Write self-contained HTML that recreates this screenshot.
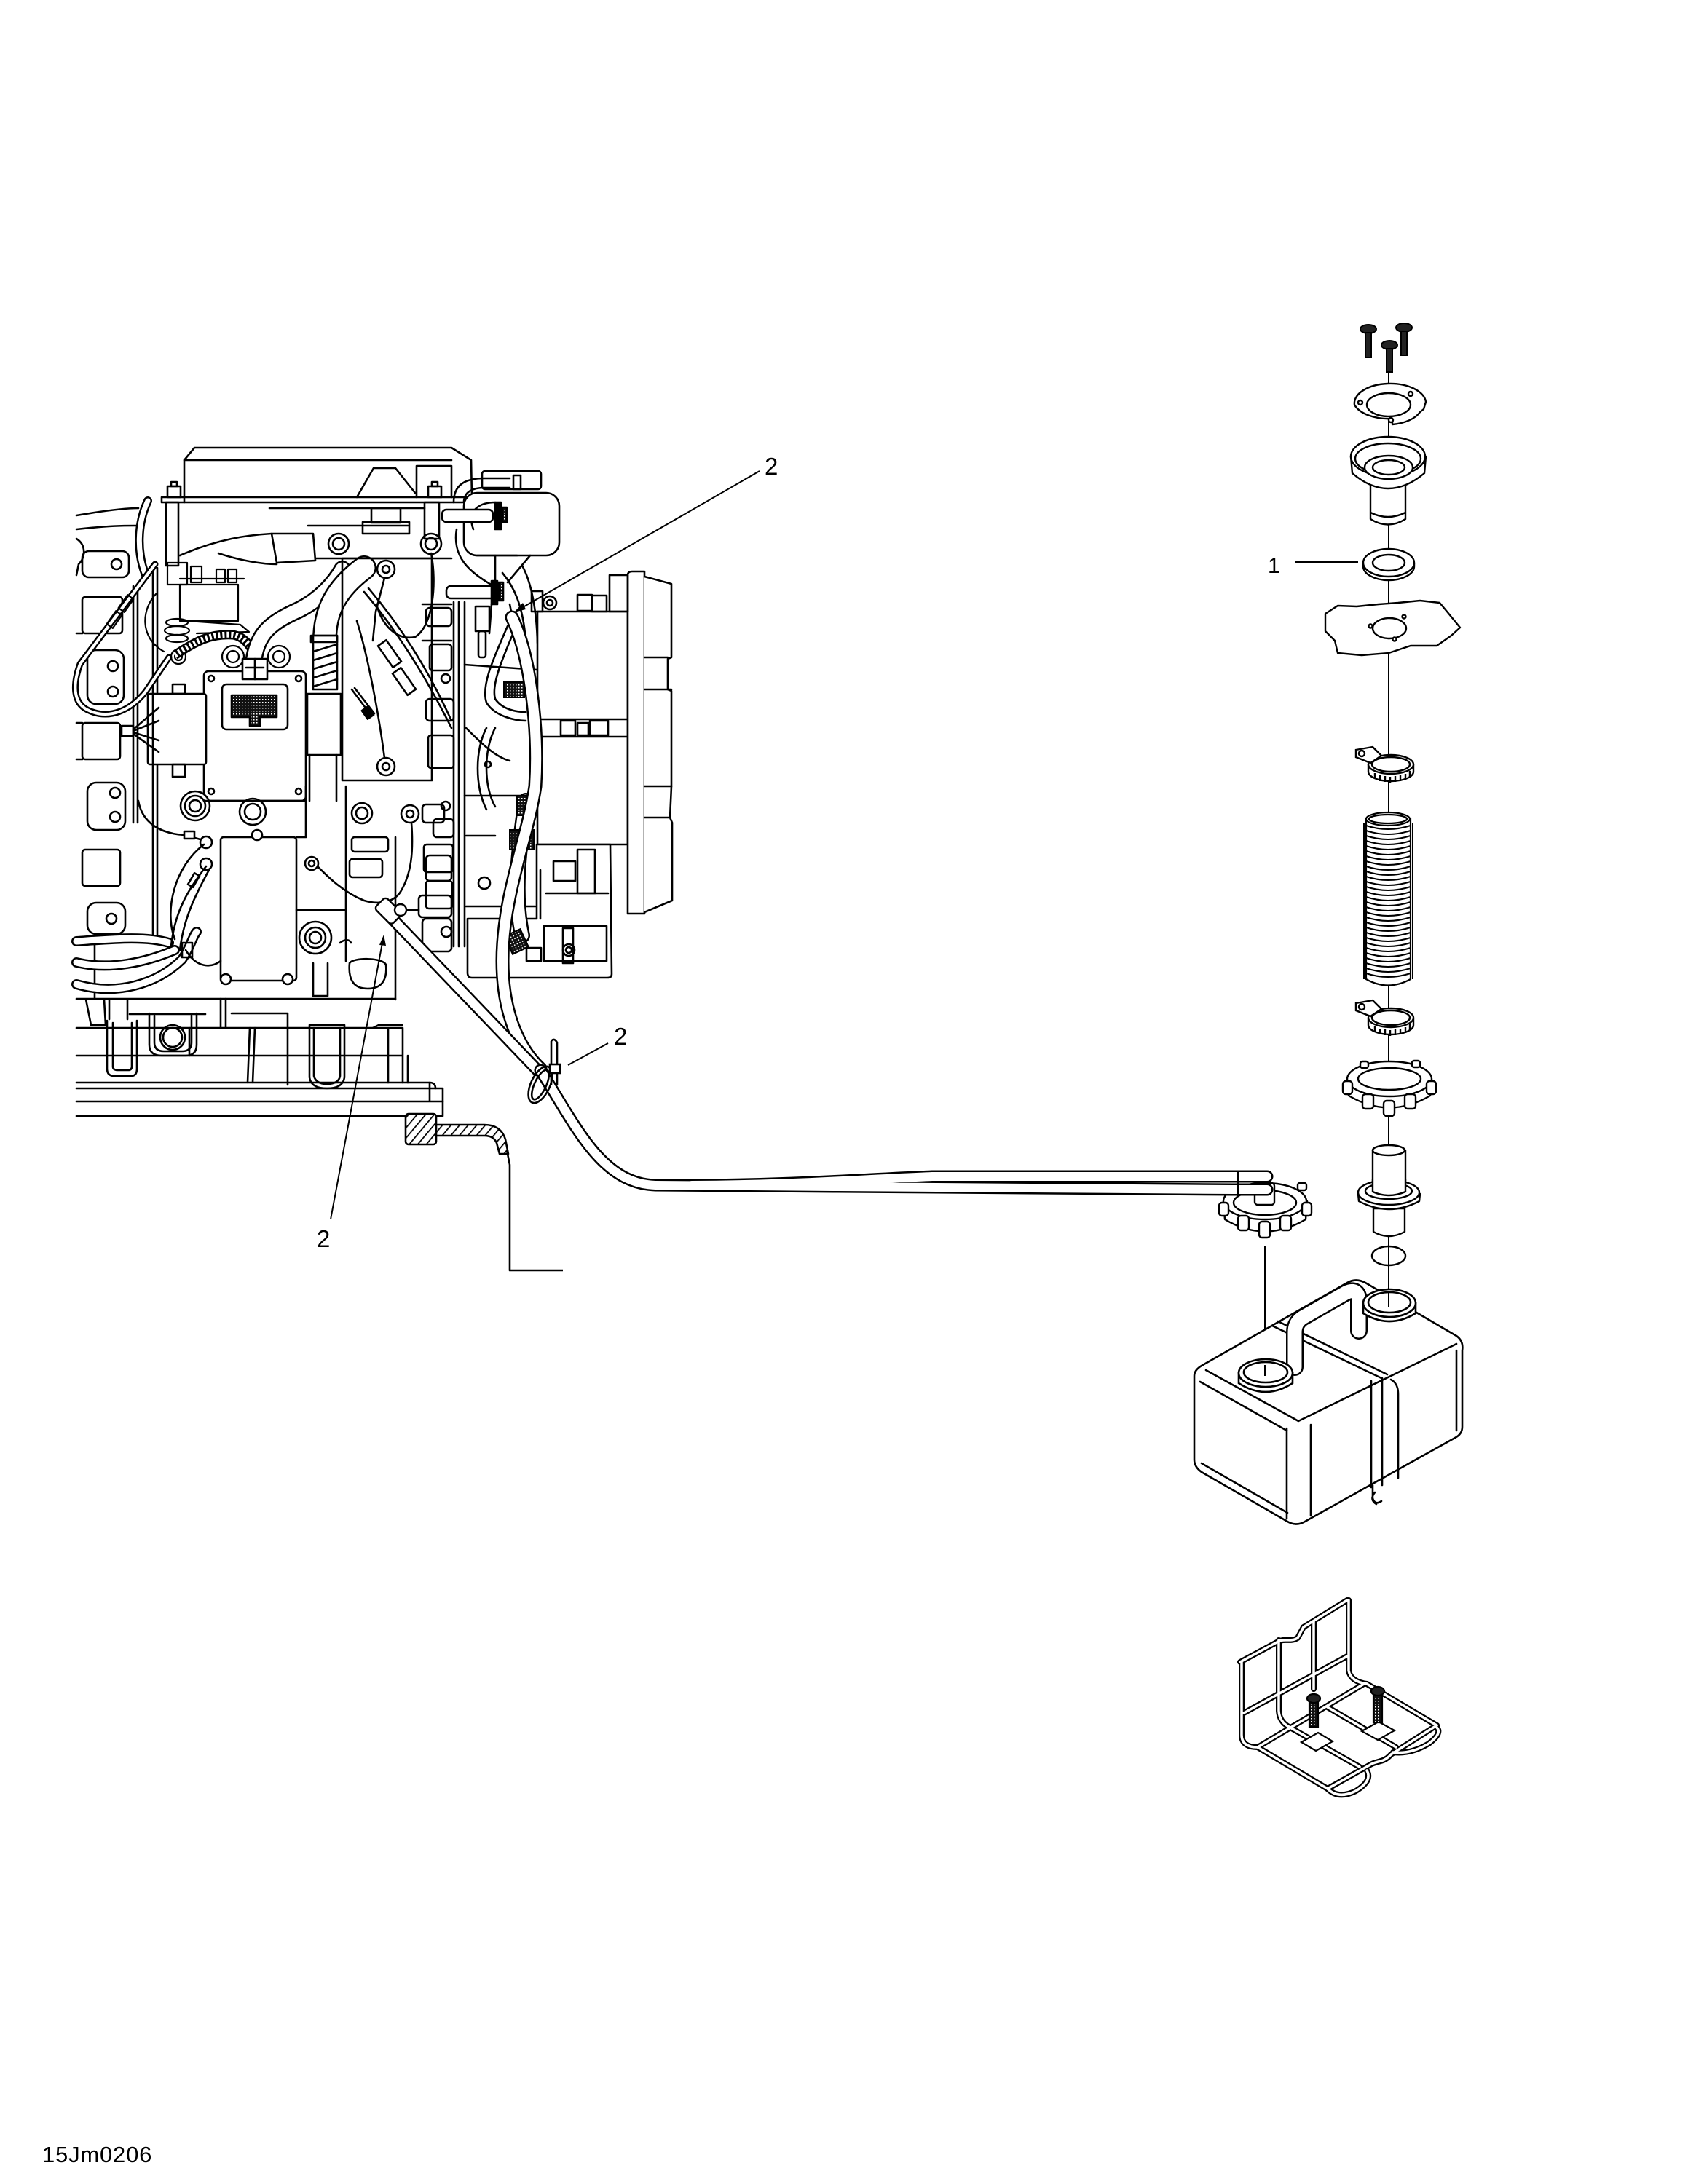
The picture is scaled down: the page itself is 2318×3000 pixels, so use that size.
<!DOCTYPE html>
<html><head><meta charset="utf-8"><style>
html,body{margin:0;padding:0;background:#fff;}
svg{display:block}
text{font-family:"Liberation Sans",sans-serif;fill:#000}
</style></head><body>
<svg width="2318" height="3000" viewBox="0 0 2318 3000" xmlns="http://www.w3.org/2000/svg">
<defs>
<pattern id="hatch" width="9" height="9" patternUnits="userSpaceOnUse" patternTransform="rotate(40)"><rect width="9" height="9" fill="#fff"/><line x1="0" y1="0" x2="0" y2="9" stroke="#000" stroke-width="3.5"/></pattern>
<pattern id="dark" width="4" height="4" patternUnits="userSpaceOnUse"><rect width="4" height="4" fill="#111"/><rect width="1.5" height="1.5" fill="#fff"/></pattern>
</defs>
<rect width="2318" height="3000" fill="#fff"/>

<g fill="none" stroke="#000" stroke-width="2.6" stroke-linejoin="round" stroke-linecap="round">
<path d="M253,690 L253,632 L267,615 L620,615 L647,632 L648,683"/>
<path d="M253,632 L620,632"/>
<rect x="222" y="683" width="426" height="7"/>
<path d="M490,683 L513,643 L543,643 L570,677"/>
<path d="M572,683 L572,640 L620,640 L620,683"/>
<rect x="230" y="668" width="18" height="15"/><rect x="235" y="662" width="8" height="6"/>
<rect x="588" y="668" width="18" height="15"/><rect x="593" y="662" width="8" height="6"/>
<rect x="228" y="690" width="17" height="87"/>
<rect x="583" y="690" width="20" height="50"/>
<path d="M370,698 L583,698"/><path d="M423,722 L560,722"/>
<rect x="510" y="698" width="40" height="20"/><rect x="498" y="717" width="64" height="16"/>
<path d="M373,733 L430,733 L433,770 L380,773 Z"/>
<path d="M247,763 C300,740 340,735 373,733"/>
<path d="M433,767 L620,767"/>
<circle cx="465" cy="747" r="14"/><circle cx="465" cy="747" r="8"/>
<circle cx="592" cy="747" r="14"/><circle cx="592" cy="747" r="8"/>
<path d="M300,760 C330,770 360,775 380,775"/>
<path d="M105,708 C140,702 170,698 190,698"/>
<path d="M105,727 C150,722 170,722 187,722"/>
<path d="M105,740 C118,748 118,765 108,775 L105,790"/>
<rect x="113" y="757" width="64" height="36" rx="9"/><circle cx="160" cy="775" r="7"/>
<rect x="113" y="820" width="55" height="50" rx="4"/>
<rect x="120" y="893" width="50" height="74" rx="12"/><circle cx="155" cy="915" r="7"/><circle cx="155" cy="950" r="7"/>
<rect x="113" y="993" width="52" height="50" rx="4"/>
<rect x="120" y="1075" width="52" height="65" rx="12"/><circle cx="158" cy="1089" r="7"/><circle cx="158" cy="1122" r="7"/>
<rect x="113" y="1167" width="52" height="50" rx="4"/>
<rect x="120" y="1240" width="52" height="43" rx="12"/><circle cx="153" cy="1262" r="7"/>
<path d="M130,1283 L130,1372"/>
<path d="M105,870 L113,870 M105,993 L113,993 M105,1043 L113,1043"/>
<path d="M183,805 L183,1130 M189,805 L189,1130"/>
<path d="M210,780 L210,1290 M216,780 L216,1290"/>
</g>
<g fill="none" stroke-linecap="round" stroke-linejoin="round">
<path d="M203,688 C188,720 188,760 200,790" stroke="#000" stroke-width="12"/>
<path d="M203,688 C188,720 188,760 200,790" stroke="#fff" stroke-width="7"/>
<path d="M213,775 L110,912 C100,940 100,965 120,975 C150,990 180,975 200,950 L232,903" stroke="#000" stroke-width="9"/>
<path d="M213,775 L110,912 C100,940 100,965 120,975 C150,990 180,975 200,950 L232,903" stroke="#fff" stroke-width="4"/>
<path d="M105,1293 C150,1290 200,1285 232,1295" stroke="#000" stroke-width="14"/>
<path d="M105,1293 C150,1290 200,1285 232,1295" stroke="#fff" stroke-width="9"/>
<path d="M105,1322 C150,1333 200,1322 240,1305" stroke="#000" stroke-width="14"/>
<path d="M105,1322 C150,1333 200,1322 240,1305" stroke="#fff" stroke-width="9"/>
<path d="M105,1352 C160,1368 215,1352 250,1318 C262,1300 265,1285 270,1280" stroke="#000" stroke-width="14"/>
<path d="M105,1352 C160,1368 215,1352 250,1318 C262,1300 265,1285 270,1280" stroke="#fff" stroke-width="9"/>
</g>
<g fill="none" stroke="#000" stroke-width="2.2" stroke-linejoin="round" stroke-linecap="round">
<path d="M215,815 C195,835 190,875 225,895"/>
<rect x="168" y="818" width="10" height="22" transform="rotate(35 173 829)"/>
<rect x="152" y="840" width="10" height="22" transform="rotate(35 157 851)"/>
<rect x="230" y="773" width="27" height="30"/>
<rect x="247" y="803" width="80" height="50"/>
<rect x="262" y="778" width="15" height="22"/><rect x="297" y="782" width="12" height="18"/><rect x="313" y="782" width="12" height="18"/>
<path d="M247,795 L335,795"/>
<path d="M258,853 L330,858 L342,868 L270,870"/>
<ellipse cx="243" cy="855" rx="15" ry="5"/><ellipse cx="243" cy="866" rx="17" ry="6"/><ellipse cx="243" cy="877" rx="15" ry="5"/>
<circle cx="245" cy="902" r="10"/><circle cx="245" cy="902" r="5"/>
<circle cx="320" cy="902" r="15"/><circle cx="320" cy="902" r="8"/>
<circle cx="383" cy="902" r="15"/><circle cx="383" cy="902" r="8"/>
</g>
<path d="M240,900 C270,880 290,870 320,872 C332,874 340,882 346,892" fill="none" stroke="#000" stroke-width="13"/>
<path d="M240,900 C270,880 290,870 320,872 C332,874 340,882 346,892" fill="none" stroke="#fff" stroke-width="8" stroke-dasharray="3 3"/>
<g fill="none" stroke-linecap="round">
<path d="M348,912 C352,870 372,855 410,838 C440,823 460,800 470,782" stroke="#000" stroke-width="24"/>
<path d="M348,912 C352,870 372,855 410,838 C440,823 460,800 470,782" stroke="#fff" stroke-width="19"/>
<path d="M446,880 C446,840 460,810 500,780" stroke="#000" stroke-width="34"/>
<path d="M446,880 C446,840 460,810 500,780" stroke="#fff" stroke-width="29"/>
</g>
<g fill="none" stroke="#000" stroke-width="2.6" stroke-linejoin="round" stroke-linecap="round">
<rect x="280" y="922" width="140" height="178" rx="6" fill="#fff"/>
<rect x="305" y="940" width="90" height="62" rx="6"/>
<path d="M318,955 L380,955 L380,985 L357,985 L357,997 L343,997 L343,985 L318,985 Z" fill="url(#dark)"/>
<rect x="333" y="905" width="34" height="28" fill="#fff"/><path d="M350,905 L350,933 M338,917 L362,917"/>
<circle cx="290" cy="932" r="4"/><circle cx="410" cy="932" r="4"/><circle cx="290" cy="1087" r="4"/><circle cx="410" cy="1087" r="4"/>
<rect x="203" y="953" width="80" height="97" rx="3" fill="#fff"/>
<path d="M210,953 L210,1050"/>
<rect x="237" y="940" width="17" height="13"/><rect x="237" y="1050" width="17" height="17"/>
<rect x="167" y="997" width="16" height="14"/>
<path d="M183,1002 L218,972 M183,1004 L218,990 M183,1006 L218,1017 M183,1008 L218,1033"/>
<rect x="422" y="953" width="46" height="84"/>
<path d="M425,1037 L425,1100 M462,1037 L462,1100"/>
<rect x="430" y="873" width="33" height="74" fill="#fff"/>
<rect x="427" y="873" width="36" height="9"/>
<path d="M430,895 L463,885 M430,907 L463,897 M430,919 L463,909 M430,931 L463,921 M430,943 L463,933"/>
<rect x="470" y="767" width="123" height="305"/>
<circle cx="530" cy="782" r="12" fill="#fff"/><circle cx="530" cy="782" r="5"/>
<path d="M528,794 L516,840 L512,880"/>
<path d="M490,853 C505,900 520,980 528,1041"/>
<circle cx="530" cy="1053" r="12"/><circle cx="530" cy="1053" r="5"/>
<path d="M500,813 C540,860 580,920 620,1000 M506,808 C546,855 586,915 620,990"/>
<rect x="528" y="880" width="14" height="36" transform="rotate(-35 535 898)" fill="#fff"/>
<rect x="548" y="918" width="14" height="36" transform="rotate(-35 555 936)" fill="#fff"/>
<path d="M592,760 C600,800 595,860 570,875 C545,880 525,860 517,830"/>
<path d="M483,947 L510,983 M487,945 L514,980"/>
<rect x="500" y="972" width="10" height="14" fill="#000" transform="rotate(-35 505 979)"/>
<rect x="662" y="647" width="81" height="25" rx="4"/><rect x="705" y="653" width="10" height="19"/>
<path d="M623,690 C623,665 640,657 665,657 L700,657 M637,690 C637,675 650,670 665,670 L700,670"/>
<rect x="637" y="677" width="131" height="86" rx="18" fill="#fff"/>
<path d="M650,727 C640,700 660,690 680,690 M655,763 L710,763"/>
<path d="M680,763 L680,800 M728,763 L697,800"/>
<rect x="607" y="700" width="70" height="17" rx="6" fill="#fff"/>
<rect x="613" y="805" width="67" height="17" rx="6" fill="#fff"/>
<rect x="680" y="690" width="8" height="37" fill="#000"/><rect x="690" y="697" width="6" height="20" fill="url(#dark)"/>
<rect x="675" y="798" width="8" height="32" fill="#000"/><rect x="685" y="800" width="6" height="25" fill="url(#dark)"/>
<path d="M675,830 L672,870 M700,830 L703,845"/>
<rect x="653" y="833" width="19" height="34" fill="#fff"/><rect x="657" y="867" width="10" height="36" rx="3"/>
<path d="M717,777 C730,800 737,840 738,883 M690,787 C705,805 718,830 722,880"/>
<path d="M627,727 C620,770 650,790 690,812"/>
<path d="M623,827 L623,1300 M630,827 L630,1300 M638,827 L638,1300"/>
<path d="M580,830 L620,830 M580,880 L620,880"/>
<rect x="585" y="835" width="35" height="25" rx="5"/>
<rect x="590" y="885" width="30" height="36" rx="4"/>
<circle cx="612" cy="932" r="6"/>
<rect x="585" y="960" width="38" height="30" rx="5"/>
<rect x="588" y="1010" width="35" height="45" rx="4"/>
<circle cx="612" cy="1107" r="6"/>
<rect x="595" y="1125" width="28" height="25" rx="5"/>
<rect x="582" y="1160" width="40" height="38" rx="4"/>
<rect x="585" y="1210" width="36" height="38" rx="4"/>
<circle cx="613" cy="1280" r="7"/>
<rect x="580" y="1262" width="40" height="45" rx="5"/>
<path d="M638,913 L737,920 M638,1093 L737,1093"/>
<path d="M697,860 C680,900 660,940 668,965 C680,985 710,990 722,990"/>
<path d="M708,862 C692,900 674,940 680,960 C690,975 710,978 722,978"/>
<path d="M668,1000 C652,1030 652,1080 668,1112 M680,1000 C664,1030 664,1080 680,1108"/>
<path d="M640,1000 C660,1020 680,1040 700,1045"/>
<circle cx="670" cy="1050" r="4"/>
<rect x="738" y="840" width="124" height="320" fill="#fff"/>
<path d="M738,988 L862,988 M738,1012 L862,1012"/>
<rect x="770" y="990" width="20" height="20"/><rect x="793" y="993" width="15" height="17"/><rect x="810" y="990" width="25" height="20"/>
<path d="M862,1255 L862,790 Q862,785 868,785 L885,785 L885,1255 Z" fill="#fff"/>
<path d="M885,792 L922,802 L922,903 L917,905 L917,947 L922,949 L922,1080 L920,1123 L923,1130 L923,1237 L885,1253" fill="#fff"/>
<path d="M885,903 L917,903 M885,947 L922,947 M885,1080 L922,1080 M885,1123 L920,1123"/>
<circle cx="755" cy="828" r="9"/><circle cx="755" cy="828" r="4"/>
<rect x="793" y="817" width="20" height="22"/><rect x="813" y="818" width="20" height="22"/>
<rect x="837" y="790" width="25" height="50"/>
<rect x="730" y="812" width="15" height="28"/>
<path d="M642,1262 L737,1262 L737,1160 L838,1160 L840,1338 Q840,1343 834,1343 L648,1343 Q642,1343 642,1336 Z" fill="#fff"/>
<rect x="760" y="1183" width="30" height="27"/><rect x="793" y="1167" width="24" height="60"/>
<path d="M750,1227 L835,1227 M742,1195 L742,1262"/>
<rect x="747" y="1272" width="86" height="48"/><rect x="773" y="1275" width="14" height="48"/>
<circle cx="781" cy="1305" r="8"/><circle cx="781" cy="1305" r="4"/>
<rect x="723" y="1302" width="20" height="18"/>
<path d="M640,1148 L680,1148 M640,1245 L735,1245"/>
<circle cx="665" cy="1213" r="8"/>
</g>
<g fill="none" stroke-linecap="round">
<path d="M722,1100 C712,1170 705,1230 717,1285" stroke="#000" stroke-width="22"/>
<path d="M722,1100 C712,1170 705,1230 717,1285" stroke="#fff" stroke-width="17"/>
</g>
<g stroke="#000" stroke-width="2">
<rect x="692" y="937" width="28" height="21" fill="url(#dark)"/>
<rect x="710" y="1093" width="27" height="27" fill="url(#dark)"/>
<rect x="700" y="1140" width="33" height="27" fill="url(#dark)"/>
<rect x="697" y="1280" width="24" height="27" fill="url(#dark)" transform="rotate(-25 709 1293)"/>
</g>

<g fill="none" stroke="#000" stroke-width="2.6" stroke-linejoin="round" stroke-linecap="round">
<path d="M190,1100 C195,1130 220,1145 253,1147 L275,1153"/>
<rect x="253" y="1142" width="14" height="10" fill="#fff"/>
<circle cx="268" cy="1107" r="20" fill="#fff"/><circle cx="268" cy="1107" r="14"/><circle cx="268" cy="1107" r="8"/>
<circle cx="347" cy="1115" r="18" fill="#fff"/><circle cx="347" cy="1115" r="11"/>
<path d="M420,1080 L420,1100 L280,1100"/>
<rect x="303" y="1150" width="104" height="197" rx="4" fill="#fff"/>
<circle cx="353" cy="1147" r="7" fill="#fff"/><circle cx="310" cy="1345" r="7" fill="#fff"/><circle cx="395" cy="1345" r="7" fill="#fff"/>
<circle cx="283" cy="1157" r="8"/><circle cx="283" cy="1187" r="8"/>
<path d="M283,1190 C260,1220 240,1250 235,1300 M287,1195 C268,1230 252,1262 247,1305"/>
<path d="M280,1160 C240,1190 225,1250 240,1290"/>
<path d="M255,1305 C270,1330 290,1330 303,1320"/>
<rect x="262" y="1200" width="8" height="18" transform="rotate(30 266 1209)"/>
<rect x="250" y="1295" width="14" height="20"/>
<circle cx="433" cy="1288" r="22"/><circle cx="433" cy="1288" r="14"/><circle cx="433" cy="1288" r="8"/>
<circle cx="428" cy="1186" r="9"/><circle cx="428" cy="1186" r="4"/>
<path d="M436,1190 C448,1202 470,1225 500,1237 C520,1243 540,1240 550,1225 C565,1200 568,1170 565,1130"/>
<circle cx="563" cy="1118" r="12" fill="#fff"/><circle cx="563" cy="1118" r="5"/>
<circle cx="497" cy="1117" r="14"/><circle cx="497" cy="1117" r="8"/>
<path d="M407,1150 L420,1150 L420,1100 M475,1080 L475,1320 M407,1250 L475,1250"/>
<rect x="483" y="1150" width="50" height="20" rx="4"/>
<rect x="480" y="1180" width="45" height="25" rx="4"/>
<path d="M480,1323 C485,1315 525,1315 530,1325 C532,1345 525,1358 505,1358 C485,1358 478,1345 480,1323 Z"/>
<path d="M430,1323 L430,1368 L450,1368 L450,1323"/>
<path d="M467,1295 C473,1290 480,1290 482,1295"/>
<rect x="580" y="1105" width="30" height="25" rx="5"/>
<rect x="585" y="1175" width="35" height="35" rx="5"/>
<rect x="575" y="1230" width="45" height="30" rx="5"/>
<path d="M543,1150 L543,1373 M555,1250 L575,1250"/>
<path d="M105,1372 L543,1372"/>
<path d="M118,1373 L125,1408 L145,1408 L143,1373"/>
<path d="M150,1373 L150,1400 M175,1373 L175,1400"/>
<path d="M105,1412 L552,1412"/>
<path d="M105,1450 L552,1450"/>
<path d="M147,1402 L147,1468 Q147,1478 157,1478 L180,1478 Q188,1478 188,1468 L188,1402"/>
<path d="M155,1405 L155,1465 Q155,1470 162,1470 L176,1470 Q181,1470 181,1465 L181,1405"/>
<path d="M178,1393 L282,1393"/>
<path d="M205,1392 L205,1435 Q205,1450 222,1450 L255,1450 Q270,1450 270,1435 L270,1392"/>
<path d="M212,1395 L212,1432 Q212,1444 225,1444 L250,1444 Q263,1444 263,1432 L263,1395"/>
<circle cx="237" cy="1425" r="17"/><circle cx="237" cy="1425" r="13"/>
<path d="M303,1372 L303,1412 M310,1372 L310,1412"/>
<path d="M318,1392 L395,1392 L395,1490 M343,1412 L340,1487 M350,1412 L347,1487"/>
<path d="M425,1408 L425,1480 Q427,1495 449,1495 Q471,1495 473,1480 L473,1408 Z"/>
<path d="M431,1412 L431,1478 Q434,1489 449,1489 Q465,1489 467,1478 L467,1412"/>
<path d="M512,1412 L520,1408 L552,1408 M533,1413 L533,1487 M553,1412 L553,1487"/>
<path d="M260,1412 L260,1450 M560,1450 L560,1487"/>
<path d="M105,1487 L590,1487 Q598,1487 598,1495 L608,1495 L608,1533 L105,1533"/>
<path d="M105,1495 L598,1495 M105,1513 L608,1513 M590,1487 L590,1513"/>
</g>
<g stroke="#000" stroke-width="2.6" stroke-linejoin="round">
<rect x="557" y="1530" width="42" height="42" rx="4" fill="url(#hatch)"/>
<path d="M599,1545 L665,1545 Q688,1545 694,1565 L698,1585 L686,1585 L682,1570 Q678,1560 665,1560 L599,1560 Z" fill="url(#hatch)"/>
<path d="M696,1580 L700,1600 L700,1745 L773,1745" fill="none"/>
</g>

<g fill="none" stroke-linecap="round" stroke-linejoin="round">
<path d="M703,848 C728,900 740,1000 735,1080 C725,1150 690,1230 690,1320 C690,1390 712,1440 742,1468" stroke="#000" stroke-width="19"/>
<path d="M703,848 C728,900 740,1000 735,1080 C725,1150 690,1230 690,1320 C690,1390 712,1440 742,1468" stroke="#fff" stroke-width="14"/>
<path d="M532,1255 L738,1470" stroke="#000" stroke-width="17"/>
<path d="M532,1255 L738,1470" stroke="#fff" stroke-width="12"/>
</g>
<g fill="#fff" stroke="#000" stroke-width="2.4" stroke-linejoin="round">
<path d="M1680,1650 L1682,1675 Q1737,1708 1793,1675 L1795,1650 Z"/>
<ellipse cx="1737" cy="1650" rx="57" ry="25"/>
<ellipse cx="1737" cy="1652" rx="43" ry="17"/>
<rect x="1674" y="1652" width="13" height="18" rx="4"/>
<rect x="1700" y="1670" width="15" height="20" rx="4"/>
<rect x="1729" y="1678" width="15" height="22" rx="4"/>
<rect x="1758" y="1670" width="15" height="20" rx="4"/>
<rect x="1788" y="1652" width="13" height="18" rx="4"/>
<rect x="1782" y="1625" width="12" height="10" rx="3"/>
<rect x="1723" y="1625" width="27" height="30" rx="4"/>
</g>
<g fill="none" stroke-linecap="round" stroke-linejoin="round">
<path d="M742,1470 C790,1545 825,1626 900,1628 L1150,1630 L1693,1634 L1740,1634" stroke="#000" stroke-width="17"/>
<path d="M950,1628 C1100,1627 1180,1620 1280,1616 L1740,1616" stroke="#000" stroke-width="17"/>
<path d="M742,1470 C790,1545 825,1626 900,1628 L1150,1630 L1693,1634 L1740,1634" stroke="#fff" stroke-width="12"/>
<path d="M950,1628 C1100,1627 1180,1620 1280,1616 L1740,1616" stroke="#fff" stroke-width="12"/>
</g>
<g fill="none" stroke="#000" stroke-width="2.4">
<path d="M1700,1609 L1700,1642"/>
</g>
<g stroke="#000" stroke-width="2.4" fill="#fff">
<rect x="517" y="1240" width="33" height="22" rx="5" transform="rotate(45 533 1251)"/>
<circle cx="550" cy="1250" r="8"/>
</g>
<g fill="none" stroke="#000" stroke-width="2.6">
<ellipse cx="742" cy="1490" rx="13" ry="27" transform="rotate(25 742 1490)"/>
<ellipse cx="742" cy="1490" rx="8" ry="22" transform="rotate(25 742 1490)"/>
<path d="M757,1430 L757,1490 M765,1432 L765,1490 M757,1430 Q761,1425 765,1432"/>
<rect x="755" y="1462" width="14" height="12" fill="#fff"/>
</g>

<g stroke="#000" stroke-width="2" fill="none">
<path d="M1043,647 L713,837"/>
<path d="M835,1433 L780,1463"/>
<path d="M454,1675 L526,1290"/>
<path d="M1778,772 L1865,772"/>
</g>
<path d="M706,841 L718,828 L722,837 Z" fill="#000"/>
<path d="M527,1284 L521,1298 L530,1299 Z" fill="#000"/>
<text x="1050" y="652" font-size="33">2</text>
<text x="843" y="1435" font-size="33">2</text>
<text x="435" y="1713" font-size="33">2</text>
<text x="1741" y="787" font-size="30">1</text>
<text x="58" y="2970" font-size="31" letter-spacing="0.8">15Jm0206</text>

<path d="M1907,512 L1907,1795" stroke="#000" stroke-width="2" fill="none"/>
<path d="M1737,1711 L1737,1890" stroke="#000" stroke-width="2" fill="none"/>
<g fill="#222" stroke="#000" stroke-width="2">
<ellipse cx="1879" cy="452" rx="11" ry="6"/><rect x="1875" y="457" width="8" height="34"/>
<ellipse cx="1928" cy="450" rx="11" ry="6"/><rect x="1924" y="455" width="8" height="33"/>
<ellipse cx="1908" cy="474" rx="11" ry="6"/><rect x="1904" y="479" width="8" height="32"/>
</g>
<g fill="#fff" stroke="#000" stroke-width="2.4" stroke-linejoin="round">
<path d="M1860,556 A49,27 0 0 1 1958,552 L1955,562 L1950,566 A49,27 0 0 1 1912,583 L1912,575 A49,27 0 0 1 1860,556 Z"/>
<ellipse cx="1907" cy="556" rx="30" ry="16"/>
<circle cx="1868" cy="553" r="3"/><circle cx="1937" cy="541" r="3"/><circle cx="1910" cy="577" r="3"/>
<path d="M1882,665 L1882,713 Q1906,728 1930,713 L1930,665 Z"/>
<path d="M1882,704 Q1906,716 1930,704" fill="none"/>
<path d="M1855,627 L1857,650 Q1906,692 1956,650 L1958,627 Z"/>
<ellipse cx="1906" cy="627" rx="51" ry="27"/>
<ellipse cx="1906" cy="630" rx="45" ry="21"/>
<ellipse cx="1907" cy="642" rx="33" ry="16"/>
<ellipse cx="1907" cy="642" rx="22" ry="10"/>
<path d="M1872,773 L1872,778 A35,19 0 0 0 1942,778 L1942,773"/>
<ellipse cx="1907" cy="773" rx="35" ry="19"/>
<ellipse cx="1907" cy="773" rx="22" ry="11"/>
<path d="M1820,843 L1837,832 L1863,833 L1893,830 L1920,828 L1950,825 L1977,828 L1987,840 L2005,862 L1993,873 L1973,887 L1937,887 L1907,897 L1870,900 L1837,897 L1833,880 L1820,867 Z"/>
<ellipse cx="1908" cy="863" rx="23" ry="14"/>
<circle cx="1882" cy="860" r="2.5"/><circle cx="1928" cy="847" r="2.5"/><circle cx="1915" cy="878" r="2.5"/>
</g>
<g fill="none" stroke="#000" stroke-width="2.4">
<path d="M1879,1050 L1879,1060 A31,13 0 0 0 1941,1060 L1941,1050" fill="#fff"/>
<ellipse cx="1910" cy="1050" rx="31" ry="13" fill="#fff"/>
<ellipse cx="1910" cy="1050" rx="26" ry="10"/>
<path d="M1862,1030 L1885,1026 L1897,1038 L1882,1048 L1862,1040 Z" fill="#fff"/>
<circle cx="1870" cy="1035" r="4"/>
<path d="M1888,1062 L1888,1070 M1895,1065 L1895,1073 M1902,1066 L1902,1074 M1909,1067 L1909,1075 M1916,1066 L1916,1074 M1923,1065 L1923,1073 M1930,1063 L1930,1071 M1936,1059 L1936,1067"/>
</g>
<g fill="none" stroke="#000" stroke-width="2.4" transform="translate(0,348)">
<path d="M1879,1050 L1879,1060 A31,13 0 0 0 1941,1060 L1941,1050" fill="#fff"/>
<ellipse cx="1910" cy="1050" rx="31" ry="13" fill="#fff"/>
<ellipse cx="1910" cy="1050" rx="26" ry="10"/>
<path d="M1862,1030 L1885,1026 L1897,1038 L1882,1048 L1862,1040 Z" fill="#fff"/>
<circle cx="1870" cy="1035" r="4"/>
<path d="M1888,1062 L1888,1070 M1895,1065 L1895,1073 M1902,1066 L1902,1074 M1909,1067 L1909,1075 M1916,1066 L1916,1074 M1923,1065 L1923,1073 M1930,1063 L1930,1071 M1936,1059 L1936,1067"/>
</g>
<g fill="#fff" stroke="#000" stroke-width="2.2">
<path d="M1876,1125 L1876,1345 Q1906,1362 1937,1345 L1937,1125 Z"/>
<ellipse cx="1906" cy="1125" rx="30" ry="9"/>
<ellipse cx="1906" cy="1125" rx="26" ry="6"/>
</g>
<g fill="none" stroke="#000" stroke-width="2">
<path d="M1876,1134 Q1906,1144 1937,1134 M1876,1141 Q1906,1151 1937,1141 M1876,1148 Q1906,1158 1937,1148 M1876,1155 Q1906,1165 1937,1155 M1876,1162 Q1906,1172 1937,1162 M1876,1169 Q1906,1179 1937,1169 M1876,1176 Q1906,1186 1937,1176 M1876,1183 Q1906,1193 1937,1183 M1876,1190 Q1906,1200 1937,1190 M1876,1197 Q1906,1207 1937,1197 M1876,1204 Q1906,1214 1937,1204 M1876,1211 Q1906,1221 1937,1211 M1876,1218 Q1906,1228 1937,1218 M1876,1225 Q1906,1235 1937,1225 M1876,1232 Q1906,1242 1937,1232 M1876,1239 Q1906,1249 1937,1239 M1876,1246 Q1906,1256 1937,1246 M1876,1253 Q1906,1263 1937,1253 M1876,1260 Q1906,1270 1937,1260 M1876,1267 Q1906,1277 1937,1267 M1876,1274 Q1906,1284 1937,1274 M1876,1281 Q1906,1291 1937,1281 M1876,1288 Q1906,1298 1937,1288 M1876,1295 Q1906,1305 1937,1295 M1876,1302 Q1906,1312 1937,1302 M1876,1309 Q1906,1319 1937,1309 M1876,1316 Q1906,1326 1937,1316 M1876,1323 Q1906,1333 1937,1323 M1876,1330 Q1906,1340 1937,1330 M1876,1337 Q1906,1347 1937,1337"/>
<path d="M1873,1130 L1873,1345 M1940,1130 L1940,1345"/>
</g>
<g fill="#fff" stroke="#000" stroke-width="2.4" stroke-linejoin="round">
<path d="M1850,1482 L1852,1505 Q1908,1538 1964,1505 L1966,1482 Z"/>
<ellipse cx="1908" cy="1482" rx="58" ry="24"/>
<ellipse cx="1908" cy="1482" rx="43" ry="15"/>
<rect x="1844" y="1485" width="13" height="18" rx="4"/>
<rect x="1871" y="1503" width="15" height="20" rx="4"/>
<rect x="1900" y="1512" width="15" height="21" rx="4"/>
<rect x="1929" y="1503" width="15" height="20" rx="4"/>
<rect x="1959" y="1485" width="13" height="18" rx="4"/>
<rect x="1868" y="1458" width="11" height="9" rx="3"/>
<rect x="1939" y="1457" width="11" height="9" rx="3"/>
<path d="M1885,1580 L1885,1625 L1930,1625 L1930,1580 Z"/>
<ellipse cx="1907" cy="1580" rx="22" ry="7"/>
<path d="M1886,1660 L1886,1692 Q1907,1704 1929,1692 L1929,1660 Z"/>
<path d="M1865,1640 L1866,1650 Q1907,1672 1949,1650 L1950,1640 Z"/>
<ellipse cx="1907" cy="1638" rx="42" ry="17"/>
<ellipse cx="1907" cy="1636" rx="32" ry="11"/>
<path d="M1885,1620 L1885,1637 Q1907,1647 1930,1637 L1930,1620"/>
<ellipse cx="1907" cy="1725" rx="23" ry="13" fill="none"/>
</g>

<g fill="#fff" stroke="#000" stroke-width="2.6" stroke-linejoin="round" stroke-linecap="round">
<path d="M1650,1876 L1850,1762 Q1862,1755 1875,1762 L2000,1835 Q2010,1842 2008,1855 L2008,1960 Q2008,1970 1998,1975 L1792,2090 Q1780,2097 1768,2090 L1650,2022 Q1640,2015 1640,2005 L1640,1890 Q1640,1882 1650,1876 Z"/>
<path d="M1648,1898 L1767,1965 M1656,1882 L1783,1952 L2000,1846" fill="none"/>
<path d="M1767,1962 L1767,2086 M1800,1957 L1800,2082" fill="none"/>
<path d="M1650,2010 L1768,2078 M2000,1855 L2000,1965" fill="none"/>
<path d="M1747,1821 L1897,1893 M1755,1815 L1905,1888" fill="none"/>
<path d="M1883,1897 L1883,2043 M1898,1893 L1898,2040" fill="none"/>
<path d="M1910,1895 Q1920,1900 1920,1915 L1920,2030" fill="none"/>
<path d="M1885,2040 L1885,2058 Q1888,2068 1897,2062 M1888,2050 Q1880,2060 1890,2066" fill="none"/>
</g>
<g fill="none" stroke-linecap="round" stroke-linejoin="round">
<path d="M1778,1878 L1778,1830 Q1778,1815 1792,1808 L1848,1776 Q1864,1768 1866,1785 L1866,1828" stroke="#000" stroke-width="24"/>
<path d="M1778,1878 L1778,1830 Q1778,1815 1792,1808 L1848,1776 Q1864,1768 1866,1785 L1866,1828" stroke="#fff" stroke-width="19"/>
</g>
<g fill="#fff" stroke="#000" stroke-width="2.6">
<path d="M1701,1886 L1701,1900 Q1738,1924 1775,1900 L1775,1886 Z"/>
<ellipse cx="1738" cy="1886" rx="37" ry="19"/>
<ellipse cx="1738" cy="1885" rx="30" ry="14"/>
<path d="M1872,1790 L1872,1804 Q1908,1826 1944,1804 L1944,1790 Z"/>
<ellipse cx="1908" cy="1790" rx="36" ry="19"/>
<ellipse cx="1908" cy="1789" rx="29" ry="14"/>
</g>
<path d="M1737,1875 L1737,1890 M1907,1775 L1907,1795" stroke="#000" stroke-width="2"/>

<g fill="none" stroke-linecap="round" stroke-linejoin="round">
<g stroke="#000" stroke-width="8">
<path d="M1703,2283 L1755,2255 C1765,2250 1772,2256 1782,2250 L1790,2235 L1850,2198"/>
<path d="M1705,2283 L1705,2383 Q1705,2400 1727,2400"/>
<path d="M1852,2198 L1852,2295 Q1855,2310 1877,2313"/>
<path d="M1756,2253 L1756,2350 Q1757,2365 1770,2372"/>
<path d="M1804,2227 L1804,2320"/>
<path d="M1708,2353 L1850,2275"/>
<path d="M1727,2400 L1873,2313"/>
<path d="M1727,2400 L1823,2457"/>
<path d="M1877,2313 L1973,2370"/>
<path d="M1823,2457 L1880,2425 C1890,2418 1900,2422 1910,2410 L1973,2370"/>
<path d="M1770,2372 L1867,2427"/>
<path d="M1823,2345 L1917,2400"/>
<path d="M1823,2457 Q1838,2472 1862,2460 Q1885,2446 1877,2432"/>
<path d="M1913,2407 Q1937,2410 1962,2395 Q1982,2380 1972,2372"/>
</g>
<g stroke="#fff" stroke-width="3.5">
<path d="M1703,2283 L1755,2255 C1765,2250 1772,2256 1782,2250 L1790,2235 L1850,2198"/>
<path d="M1705,2283 L1705,2383 Q1705,2400 1727,2400"/>
<path d="M1852,2198 L1852,2295 Q1855,2310 1877,2313"/>
<path d="M1756,2253 L1756,2350 Q1757,2365 1770,2372"/>
<path d="M1804,2227 L1804,2320"/>
<path d="M1708,2353 L1850,2275"/>
<path d="M1727,2400 L1873,2313"/>
<path d="M1727,2400 L1823,2457"/>
<path d="M1877,2313 L1973,2370"/>
<path d="M1823,2457 L1880,2425 C1890,2418 1900,2422 1910,2410 L1973,2370"/>
<path d="M1770,2372 L1867,2427"/>
<path d="M1823,2345 L1917,2400"/>
<path d="M1823,2457 Q1838,2472 1862,2460 Q1885,2446 1877,2432"/>
<path d="M1913,2407 Q1937,2410 1962,2395 Q1982,2380 1972,2372"/>
</g>
</g>
<g stroke="#000" stroke-width="2.2" fill="#fff">
<path d="M1787,2393 L1810,2380 L1830,2392 L1807,2405 Z"/>
<path d="M1870,2378 L1893,2365 L1915,2377 L1892,2390 Z"/>
<rect x="1798" y="2332" width="12" height="40" fill="url(#dark)"/>
<ellipse cx="1804" cy="2333" rx="9" ry="6" fill="#222"/>
<rect x="1886" y="2322" width="12" height="44" fill="url(#dark)"/>
<ellipse cx="1892" cy="2323" rx="9" ry="6" fill="#222"/>
</g>
</svg>
</body></html>
